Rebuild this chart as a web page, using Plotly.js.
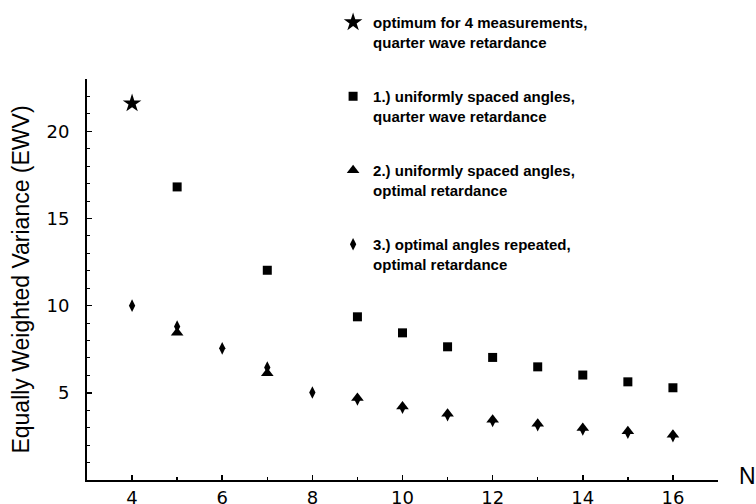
<!DOCTYPE html>
<html>
<head>
<meta charset="utf-8">
<script src="https://cdn.plot.ly/plotly-3.0.1.min.js"></script>
<style>html,body{margin:0;padding:0;background:#fff;}#chart{width:756px;height:504px;}</style>
</head>
<body>
<div id="chart"></div>
<script>
// ---- data ----
var starN = [4];
var starEWV = [21.6];

var squareN = [5, 7, 9, 10, 11, 12, 13, 14, 15, 16];
var squareEWV = [16.81, 12.03, 9.36, 8.44, 7.64, 7.03, 6.49, 6.02, 5.63, 5.29];

var triangleN = [5, 7, 9, 10, 11, 12, 13, 14, 15, 16];
var triangleEWV = [8.45, 6.12, 4.7, 4.22, 3.8, 3.46, 3.22, 2.98, 2.79, 2.59];

var diamondN = [4, 5, 6, 7, 8, 9, 10, 11, 12, 13, 14, 15, 16];
var diamondEWV = [10.0, 8.8, 7.55, 6.45, 5.02, 4.62, 4.14, 3.72, 3.38, 3.14, 2.9, 2.71, 2.51];

var legendNames = [
  'optimum for 4 measurements,<br>quarter wave retardance',
  '1.) uniformly spaced angles,<br>quarter wave retardance',
  '2.) uniformly spaced angles,<br>optimal retardance',
  '3.) optimal angles repeated,<br>optimal retardance'
];

var xTickVals = [4, 6, 8, 10, 12, 14, 16];
var yTickVals = [5, 10, 15, 20];
var yTitle = 'Equally Weighted Variance (EWV)';
var xTitle = 'N';

var traces = [
  {x: starN, y: starEWV, name: legendNames[0], legendgroup: 'g0', legendrank: 1, mode: 'markers', type: 'scatter',
   marker: {symbol: 'star', size: 14, color: '#000'}},
  {x: squareN, y: squareEWV, name: legendNames[1], legendgroup: 'g1', legendrank: 2, mode: 'markers', type: 'scatter',
   marker: {symbol: 'square', size: 9, color: '#000'}},
  {x: diamondN, y: diamondEWV, name: legendNames[3], legendgroup: 'g3', legendrank: 4, mode: 'markers', type: 'scatter',
   marker: {symbol: 'diamond-tall', size: 9, color: '#000'}},
  {x: triangleN, y: triangleEWV, name: legendNames[2], legendgroup: 'g2', legendrank: 3, mode: 'markers', type: 'scatter',
   marker: {symbol: 'triangle-up', size: 11, color: '#000'}}
];

var tickFont = {family: 'DejaVu Sans', size: 18, color: '#000'};

var layout = {
  width: 756, height: 504,
  margin: {l: 87, r: 38, t: 79, b: 24, pad: 0, autoexpand: false},
  paper_bgcolor: '#fff', plot_bgcolor: '#fff',
  showlegend: true,
  legend: {
    x: 0.39, y: 1.182, xanchor: 'left', yanchor: 'top',
    traceorder: 'grouped', tracegroupgap: 32, valign: 'top',
    maxheight: 480,
    bgcolor: 'rgba(0,0,0,0)', borderwidth: 0,
    font: {family: 'Liberation Sans', size: 15, color: '#000', weight: 'bold'}
  },
  xaxis: {
    range: [3, 17], showgrid: false, zeroline: false,
    showline: true, linecolor: '#000', linewidth: 2,
    tickmode: 'array', tickvals: xTickVals,
    ticks: 'inside', ticklen: 5, tickwidth: 1.5, tickcolor: '#000',
    tickfont: tickFont, ticklabelstandoff: 0,
    minor: {ticks: 'inside', ticklen: 3, tickwidth: 1.5, tickcolor: '#000', dtick: 1, tick0: 3, showgrid: false}
  },
  yaxis: {
    range: [0, 23], showgrid: false, zeroline: false,
    showline: true, linecolor: '#000', linewidth: 2,
    tickmode: 'array', tickvals: yTickVals,
    ticks: 'inside', ticklen: 5, tickwidth: 1.5, tickcolor: '#000',
    tickfont: tickFont, ticklabelstandoff: 12,
    minor: {ticks: 'inside', ticklen: 3, tickwidth: 1, tickcolor: '#000', dtick: 1, tick0: 0, showgrid: false},
    title: {text: yTitle, font: {family: 'Liberation Sans', size: 23, color: '#000'}, standoff: 10}
  },
  annotations: [
    {text: xTitle, xref: 'paper', yref: 'paper', x: 1.03, y: 0.01, xanchor: 'left', yanchor: 'middle',
     showarrow: false, font: {family: 'Liberation Sans', size: 23, color: '#000'}}
  ]
};

Plotly.newPlot('chart', traces, layout, {displayModeBar: false, staticPlot: true});
</script>
</body>
</html>
